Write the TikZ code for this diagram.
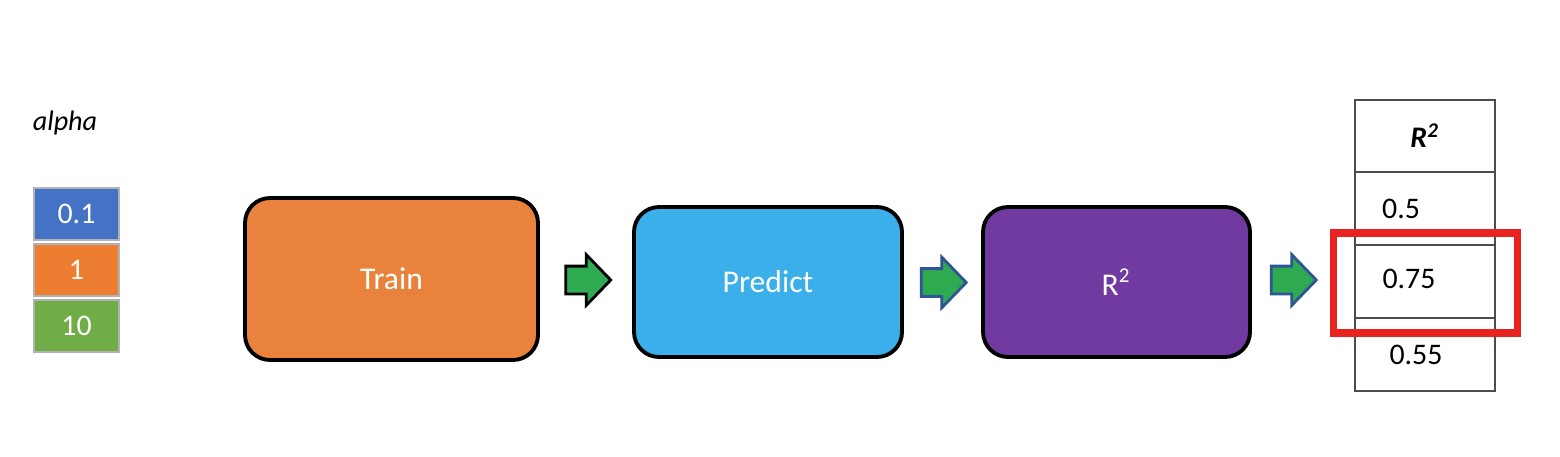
\documentclass[tikz,border=0pt]{standalone}
\usepackage{fontspec}
\setmainfont{Carlito}
\usepackage{tikz}
\usetikzlibrary{backgrounds,shapes,shapes.arrows}
\pgfdeclarelayer{nodelayer}
\pgfsetlayers{main,nodelayer}
\definecolor{aBlue}{HTML}{4472C4}
\definecolor{aOrange}{HTML}{ED7D31}
\definecolor{aGreen}{HTML}{70AD47}
\definecolor{trainCol}{HTML}{E8823C}
\definecolor{predCol}{HTML}{3AAFE9}
\definecolor{scoreCol}{HTML}{703AA0}
\definecolor{arrCol}{HTML}{2EAA50}
\definecolor{arrEdge}{HTML}{2F5597}
\definecolor{pickRed}{HTML}{E8231F}
\tikzstyle{none}=[inner sep=0pt]
\tikzstyle{label}=[inner sep=0pt, font=\fontsize{8}{10}\selectfont\itshape]
\tikzstyle{alphabox}=[rectangle, draw=black!30, line width=0.5, minimum width=0.85cm, minimum height=0.52cm, inner sep=0pt, text=white, font=\fontsize{8.5}{10}\selectfont]
\tikzstyle{stage}=[rectangle, rounded corners=0.25cm, draw=black, line width=1.1, inner sep=0pt, text=white, font=\fontsize{9}{11}\selectfont]
\tikzstyle{blockarrow}=[single arrow, fill=arrCol, draw=black, line width=0.8, minimum height=0.45cm, inner sep=0.125cm, single arrow head extend=0.115cm, single arrow tip angle=92]
\tikzstyle{cell}=[rectangle, draw=black!70, line width=0.5, minimum width=1.4cm, inner sep=0pt, font=\fontsize{8.5}{10}\selectfont]
\tikzstyle{pick}=[rectangle, draw=pickRed, line width=2, minimum width=1.84cm, minimum height=1.0cm, inner sep=0pt]

\begin{document}
\begin{tikzpicture}
	\useasboundingbox [fill=white] (0, 0) rectangle (15.6, 4.56);
	\begin{pgfonlayer}{nodelayer}
		\node [style = label] (alpha) at (0.65, 3.33) {alpha};
		\node [style = alphabox, fill=aBlue] (a1) at (0.765, 2.42) {0.1};
		\node [style = alphabox, fill=aOrange] (a2) at (0.765, 1.86) {1};
		\node [style = alphabox, fill=aGreen] (a3) at (0.765, 1.30) {10};

		\node [style = stage, fill=trainCol, minimum width=2.93cm, minimum height=1.62cm] (train) at (3.915, 1.77) {Train};
		\node [style = stage, fill=predCol, minimum width=2.68cm, minimum height=1.50cm] (predict) at (7.68, 1.74) {Predict};
		\node [style = stage, fill=scoreCol, minimum width=2.67cm, minimum height=1.50cm] (score) at (11.165, 1.74) {R\textsuperscript{2}};

		\node [style = blockarrow] (s1) at (5.815, 1.76) {};
		\node [style = blockarrow, draw=arrEdge] (s2) at (9.37, 1.735) {};
		\node [style = blockarrow, draw=arrEdge] (s3) at (12.87, 1.76) {};

		\node [style = cell, minimum height=0.72cm] (head) at (14.25, 3.20) {\textbf{\textit{R\textsuperscript{2}}}};
		\node [style = cell, minimum height=0.73cm] (r1) at (14.25, 2.475) {};
		\node [style = cell, minimum height=0.73cm] (r2) at (14.25, 1.745) {};
		\node [style = cell, minimum height=0.73cm] (r3) at (14.25, 1.015) {};
		\node [style = none, font=\fontsize{8.5}{10}\selectfont] at (14.01, 2.475) {0.5};
		\node [style = none, font=\fontsize{8.5}{10}\selectfont] at (14.09, 1.775) {0.75};
		\node [style = none, font=\fontsize{8.5}{10}\selectfont] at (14.16, 1.015) {0.55};

		\node [style = pick] (best) at (14.25, 1.73) {};
	\end{pgfonlayer}
\end{tikzpicture}
\end{document}
